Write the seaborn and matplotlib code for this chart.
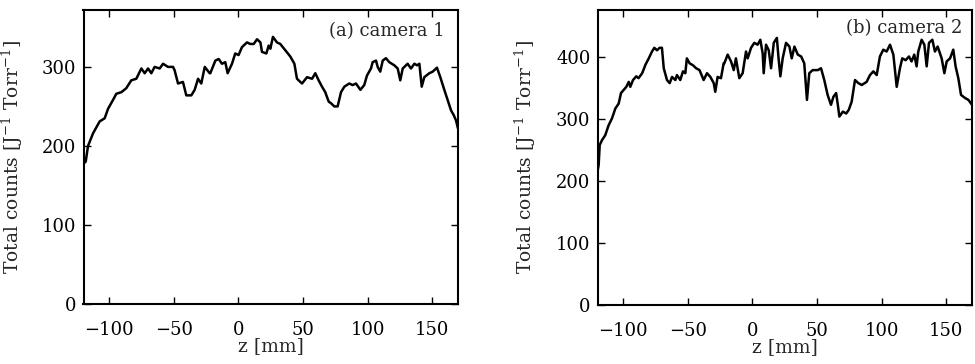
import numpy as np
import pandas as pd
import matplotlib
matplotlib.use("Agg")
import matplotlib.pyplot as plt
import seaborn as sns

# ---- data ----
z_cam1 = [-120, -118.3, -116.5, -112.6, -107.5, -103.6, -101, -97.2, -94.6, -90.7, -86.9, -83, -79.1,
          -75.2, -72.6, -70, -67.5, -64.9, -61, -58.4, -54.6, -50.7, -49.5, -46.8, -43, -40.4, -36.5,
          -33.9, -31.3, -28.8, -26.1, -22.3, -21.8, -17.9, -15.3, -12.8, -10.2, -8.4, -5, -2.5, 0.1,
          2.7, 6.6, 9.2, 11.8, 14.4, 17, 18.2, 21.6, 23.4, 24.7, 26.7, 29.8, 32.4, 36.3, 40.2, 43.3,
          45.3, 49.2, 53.1, 57, 59.5, 62.1, 64.7, 67.2, 69.9, 71.7, 74.2, 76.8, 79.4, 82, 85.8, 88.4,
          91, 94.4, 97.4, 99.5, 102.6, 103.9, 106.5, 107.8, 109.8, 111.7, 114.2, 116.8, 120.7, 123.3,
          125.3, 127.2, 131, 133.6, 136.2, 138.3, 140.1, 141.9, 143.9, 147.8, 150.4, 153.7, 156.3,
          159.4, 162, 164.6, 166.7, 168.5, 170]
v_cam1 = [178, 180, 200, 216, 231, 235, 247, 258, 266, 268, 273, 283, 285,
          298, 292, 298, 292, 300, 298, 304, 300, 300, 296, 279, 281, 264, 264,
          271, 285, 279, 300, 292, 292, 308, 310, 304, 306, 292, 304, 317, 315,
          325, 331, 329, 329, 335, 331, 319, 317, 327, 323, 338, 331, 329, 321, 313, 304,
          285, 279, 287, 285, 292, 283, 275, 268, 256, 254, 250, 250, 268, 275, 279, 277,
          279, 271, 277, 289, 298, 306, 308, 300, 294, 308, 311, 306, 302, 298,
          283, 298, 304, 298, 304, 302, 304, 275, 287, 292, 294, 299, 287,
          271, 258, 245, 239, 232, 222]

z_cam2 = [-120, -119.1, -118.3, -116.5, -114, -111.4, -108.8, -106.2, -103.6, -101.8, -99.8, -97.7,
          -95.8, -94.6, -92.5, -90, -88.2, -85.4, -82.8, -80.3, -77.8, -76, -73.9, -71.9, -70.1,
          -68.7, -66.2, -64.1, -62.3, -59.7, -58.5, -55.9, -53.8, -52, -50.8, -48.7, -46.2, -43.6,
          -41, -37.8, -35.2, -32.6, -30, -28.8, -27, -24.4, -22.3, -21.8, -19.2, -16.6, -14.5,
          -12.8, -10.2, -7.6, -5, -3.7, -1.1, 1.4, 4, 6.1, 7.9, 8.7, 10.5, 12.6, 14.4, 16.5, 18.9,
          20.2, 21.6, 23.4, 26, 28.6, 30.4, 32.5, 35.1, 37.7, 40.1, 42.2, 44, 46.6, 50.5, 53.1,
          55.6, 58.2, 60.8, 62.7, 64.8, 66.1, 67.3, 70, 72.6, 74.6, 76.8, 79.4, 82, 84.6, 88.4,
          91, 93.6, 96.2, 98.7, 101.3, 103.9, 106.5, 109.1, 111.7, 114.2, 116, 118.6, 121.2,
          123.2, 125.3, 127.1, 128.4, 131, 133.1, 134.9, 136.7, 139.3, 141.3, 143.4, 146.5,
          148.6, 150.4, 153, 155.5, 157.3, 159.4, 161.5, 164.6, 167.2, 170]
v_cam2 = [215, 226, 258, 266, 274, 290, 301, 317, 325, 342, 347, 352,
          360, 352, 363, 369, 366, 374, 388, 398, 409, 415, 411, 415, 415,
          382, 363, 358, 368, 363, 371, 363, 377, 374, 398, 390, 387, 382,
          379, 363, 374, 368, 358, 344, 368, 366, 390, 390, 404, 393, 379,
          398, 366, 374, 409, 398, 415, 423, 420, 428, 406, 374, 420, 411, 382, 423, 431,
          398, 369, 398, 423, 417, 398, 417, 404, 401, 390, 331, 374, 379, 379, 382,
          363, 339, 323, 336, 342, 323, 304, 312, 309, 315, 328, 363, 358, 355, 360,
          371, 377, 371, 401, 412, 409, 420, 404, 352, 382, 398, 395, 401,
          393, 404, 385, 409, 428, 420, 385, 423, 428, 409, 417, 398,
          374, 393, 398, 412, 385, 366, 339, 334, 331, 323]

x_ticks = [-100, -50, 0, 50, 100, 150]
y_ticks_1 = [0, 100, 200, 300]
y_ticks_2 = [0, 100, 200, 300, 400]
panel_labels = ["(a) camera 1", "(b) camera 2"]

df1 = pd.DataFrame({"z": z_cam1, "counts": v_cam1})
df2 = pd.DataFrame({"z": z_cam2, "counts": v_cam2})

sns.set_theme(style="ticks")
plt.rcParams["font.family"] = ["DejaVu Serif"]
plt.rcParams["mathtext.fontset"] = "dejavuserif"

fig = plt.figure(figsize=(9.75, 3.64), dpi=100)
ax1 = fig.add_axes([83.5 / 975, 1 - 304 / 364, 374.5 / 975, 294 / 364])
ax2 = fig.add_axes([597.5 / 975, 1 - 305 / 364, 374.5 / 975, 295 / 364])

for ax, df, yt, ytop, lab, lx, ly, ylx in [
    (ax1, df1, y_ticks_1, 372, panel_labels[0], 0.965, 0.929, -0.156),
    (ax2, df2, y_ticks_2, 476, panel_labels[1], 0.973, 0.939, -0.159),
]:
    sns.lineplot(data=df, x="z", y="counts", ax=ax, color="black", linewidth=1.8)
    ax.set_xlim(-120, 170)
    ax.set_ylim(0, ytop)
    ax.set_xticks(x_ticks)
    ax.set_xticklabels([f"{t}".replace("-", "\u2212") for t in x_ticks])
    ax.set_yticks(yt)
    ax.tick_params(direction="in", top=True, right=True, length=5, width=1,
                   labelsize=13, colors="black")
    ax.tick_params(axis="x", pad=12)
    ax.tick_params(axis="y", pad=5)
    for s in ax.spines.values():
        s.set_linewidth(1.5)
        s.set_color("black")
    ax.set_xlabel("z [mm]", fontsize=13.5)
    ax.set_ylabel(r"Total counts [J$^{-1}$ Torr$^{-1}$]", fontsize=13.5)
    ax.xaxis.set_label_coords(0.5, -0.112)
    ax.yaxis.set_label_coords(ylx, 0.5)
    ax.text(lx, ly, lab, transform=ax.transAxes, ha="right", va="center", fontsize=13)

fig.savefig("out.png", dpi=100)
